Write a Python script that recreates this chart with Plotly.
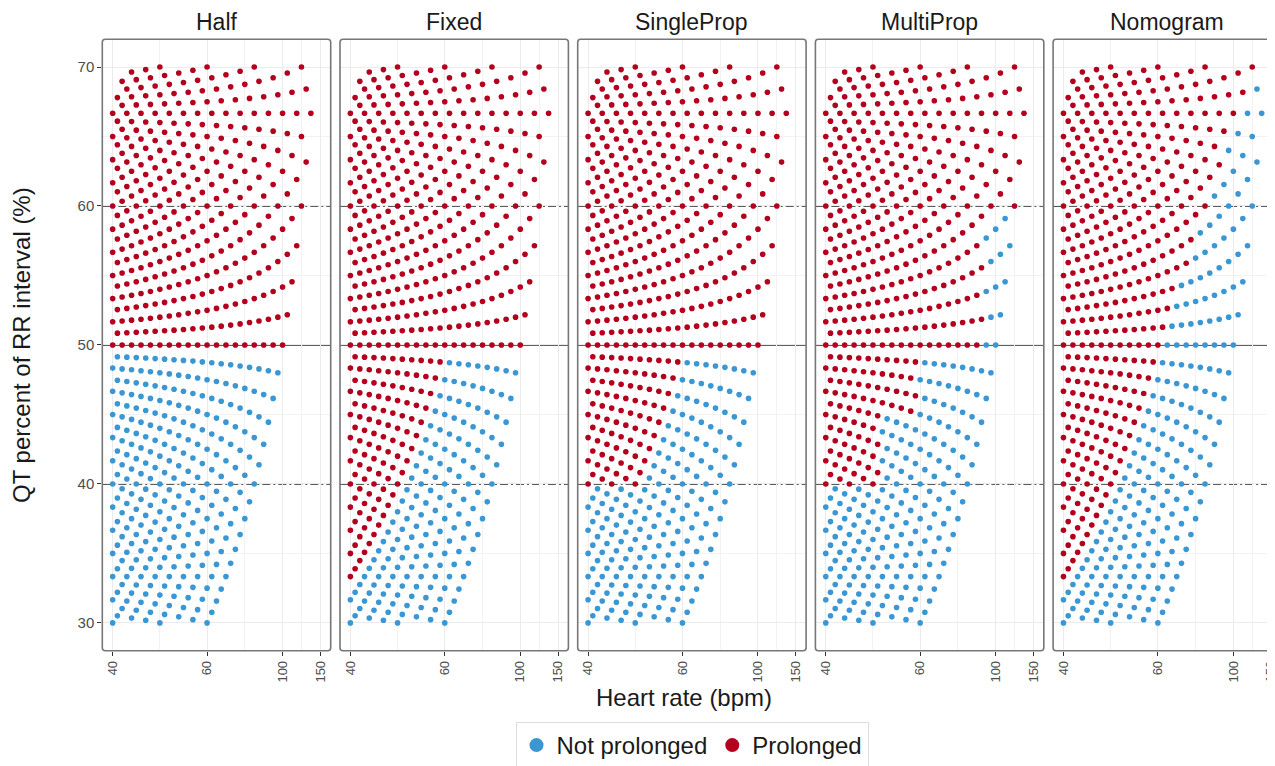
import plotly.graph_objects as go

# ---------------- data ----------------
PANELS = ["Half", "Fixed", "SingleProp", "MultiProp", "Nomogram"]

# RR interval grid (ms) and QT grid (ms) of the simulated ECGs
RR_MS = [1500, 1475, 1450, 1425, 1400, 1375, 1350, 1325, 1300, 1275, 1250, 1225,
         1200, 1175, 1150, 1125, 1100, 1075, 1050, 1025, 1000, 975, 950, 925,
         900, 875, 850, 825, 800, 775, 750, 725, 700, 675, 650, 625, 600, 575,
         550, 525, 500, 475, 450]
QT_MS = [300, 325, 350, 375, 400, 425, 450, 475, 500, 525, 550, 575, 600, 625,
         650, 675, 700, 725, 750, 775, 800, 825, 850, 875, 900, 925, 950, 975, 1000]

# smallest QT (ms) classed as "Prolonged" at each RR (same order as RR_MS)
THR_HALF = [750, 750, 725, 725, 700, 700, 675, 675, 650, 650, 625, 625, 600, 600,
            575, 575, 550, 550, 525, 525, 500, 500, 475, 475, 450, 450, 425, 425,
            400, 400, 375, 375, 350, 350, 325, 325, 300, 300, 300, 300, 300, 300, 300]
THR_FIXED = [500, 500, 500, 500, 500, 500, 500, 500, 500, 500, 500, 500, 500, 500,
             500, 500, 500, 500, 500, 500, 500, 500, 475, 475, 450, 450, 425, 425,
             400, 400, 375, 375, 350, 350, 325, 325, 300, 300, 300, 300, 300, 300, 300]
THR_SINGLE = [600, 600, 600, 575, 575, 550, 550, 550, 525, 525, 500, 500, 500, 500,
              500, 500, 500, 500, 500, 500, 500, 500, 475, 475, 450, 450, 425, 425,
              400, 400, 375, 375, 350, 350, 325, 325, 300, 300, 300, 300, 300, 300, 300]
THR_MULTI = [600, 600, 600, 575, 575, 550, 550, 550, 525, 525, 500, 500, 550, 550,
             525, 525, 500, 500, 475, 475, 500, 500, 475, 475, 450, 450, 425, 425,
             400, 400, 375, 375, 350, 350, 400, 375, 375, 350, 350, 325, 300, 300, 300]
THR_NOMO = [500, 500, 500, 500, 500, 500, 500, 500, 500, 500, 500, 500, 500, 500,
            500, 500, 500, 500, 500, 500, 500, 500, 500, 500, 500, 500, 475, 475,
            475, 475, 450, 450, 450, 425, 425, 425, 400, 400, 375, 375, 350, 350, 325]
THRESHOLDS = [THR_HALF, THR_FIXED, THR_SINGLE, THR_MULTI, THR_NOMO]

HR_TICKS = [40, 60, 100, 150]          # heart-rate tick labels (bpm)
HR_MINOR = [48, 75, 120]               # minor grid positions (bpm)
Y_TICKS = [30, 40, 50, 60, 70]
Y_MINOR = [35, 45, 55, 65]
PCT_MIN, PCT_MAX = 30, 70

# ---------------- style / layout ----------------
OFF = 8                      # page body margin
W, H = 1300, 790             # canvas is larger than the window; the window shows the left/top part
FONT = "Liberation Sans, Arial, Helvetica, sans-serif"
BLUE = "#3a97d4"
RED = "#b4001d"
PANEL_LEFT = [p - OFF for p in (102.3, 340.0, 577.7, 815.4, 1053.1)]
PANEL_W = 228.4
TOP, BOT = 39.2 - OFF, 650.7 - OFF
X_LO, X_HI = 345.0, 1555.0   # RR-axis limits (ms), drawn reversed


def px(xp):
    return xp / W


def py(yp):
    return (H - yp) / H


fig = go.Figure()
layout = dict(
    width=W, height=H, margin=dict(l=0, r=0, t=0, b=0),
    paper_bgcolor="white", plot_bgcolor="white",
    font=dict(family=FONT, color="#1a1a1a"),
    showlegend=True,
)
shapes, annotations = [], []
ydom = [py(BOT), py(TOP)]

for i, (name, thr) in enumerate(zip(PANELS, THRESHOLDS)):
    n = "" if i == 0 else str(i + 1)
    bx, by, rx, ry = [], [], [], []
    for rr, t in zip(RR_MS, thr):
        for qt in QT_MS:
            pct = qt / rr * 100.0
            if pct < PCT_MIN - 1e-9 or pct > PCT_MAX + 1e-9:
                continue
            if qt >= t:
                rx.append(rr); ry.append(pct)
            else:
                bx.append(rr); by.append(pct)
    for xs, ys, col, lab in [(bx, by, BLUE, "Not prolonged"), (rx, ry, RED, "Prolonged")]:
        fig.add_trace(go.Scatter(
            x=xs, y=ys, mode="markers", name=lab,
            showlegend=False, xaxis="x" + n, yaxis="y" + n,
            marker=dict(color=col, size=5.6, line=dict(width=0)),
            hoverinfo="skip"))

    left = PANEL_LEFT[i]
    right = left + PANEL_W
    layout["xaxis" + n] = dict(
        domain=[px(left), px(right)], range=[X_HI, X_LO], anchor="y" + n,
        tickvals=[60000 / h for h in HR_TICKS], ticktext=[str(h) for h in HR_TICKS],
        tickangle=-90, ticks="outside", ticklen=4, tickwidth=1.3, tickcolor="#333333",
        tickfont=dict(size=13, color="#4d4d4d", family=FONT),
        showgrid=True, gridcolor="#ebebeb", gridwidth=1,
        minor=dict(tickvals=[60000 / h for h in HR_MINOR], showgrid=True,
                   gridcolor="#f2f2f2", gridwidth=0.8),
        zeroline=False, showline=False, automargin=False, fixedrange=True)
    layout["yaxis" + n] = dict(
        domain=ydom, range=[28, 72], anchor="x" + n,
        tickvals=Y_TICKS, showticklabels=(i == 0),
        ticks="outside" if i == 0 else "", ticklen=4, tickwidth=1.3, tickcolor="#333333",
        tickfont=dict(size=15, color="#4d4d4d", family=FONT),
        showgrid=True, gridcolor="#ebebeb", gridwidth=1,
        minor=dict(tickvals=Y_MINOR, showgrid=True, gridcolor="#f2f2f2", gridwidth=0.8),
        zeroline=False, showline=False, automargin=False, fixedrange=True)

    xd = "x" + n + " domain"
    # reference lines
    shapes.append(dict(type="line", xref=xd, yref="y" + n, x0=0, x1=1, y0=50, y1=50,
                       line=dict(color="#2b2b2b", width=1.8), layer="below"))
    for yv in (40, 60):
        shapes.append(dict(type="line", xref=xd, yref="y" + n, x0=0, x1=1, y0=yv, y1=yv,
                           line=dict(color="#262626", width=1.7, dash="8px,3px,2px,3px"),
                           layer="below"))
    # panel border with slightly rounded corners
    r = 3.0
    x0, x1 = px(left), px(right)
    y0, y1 = py(BOT), py(TOP)
    rx_, ry_ = r / W, r / H
    path = (f"M {x0+rx_},{y1} L {x1-rx_},{y1} Q {x1},{y1} {x1},{y1-ry_} "
            f"L {x1},{y0+ry_} Q {x1},{y0} {x1-rx_},{y0} L {x0+rx_},{y0} "
            f"Q {x0},{y0} {x0},{y0+ry_} L {x0},{y1-ry_} Q {x0},{y1} {x0+rx_},{y1} Z")
    shapes.append(dict(type="path", xref="paper", yref="paper", path=path,
                       line=dict(color="#777777", width=1.6), fillcolor="rgba(0,0,0,0)",
                       layer="above"))
    # strip title
    annotations.append(dict(text=name, xref="paper", yref="paper",
                            x=px(left + PANEL_W / 2), y=py(22 - OFF),
                            xanchor="center", yanchor="middle", showarrow=False,
                            font=dict(size=23, color="#1a1a1a", family=FONT)))

annotations.append(dict(text="QT percent of RR interval (%)", xref="paper", yref="paper",
                        x=px(22 - OFF), y=py((TOP + BOT) / 2), textangle=-90,
                        xanchor="center", yanchor="middle", showarrow=False,
                        font=dict(size=24, color="#1a1a1a", family=FONT)))
annotations.append(dict(text="Heart rate (bpm)", xref="paper", yref="paper",
                        x=px(684 - OFF), y=py(697 - OFF),
                        xanchor="center", yanchor="middle", showarrow=False,
                        font=dict(size=24, color="#1a1a1a", family=FONT)))

# legend entries (symbols only, no data)
for col, lab in [(BLUE, "Not prolonged"), (RED, "Prolonged")]:
    fig.add_trace(go.Scatter(x=[None], y=[None], mode="markers", name=lab,
                             marker=dict(color=col, size=14, line=dict(width=0)),
                             showlegend=True, hoverinfo="skip"))

layout["shapes"] = shapes
layout["annotations"] = annotations
layout["legend"] = dict(orientation="h", x=px(692 - OFF), xanchor="center",
                        y=py(722 - OFF), yanchor="top", bordercolor="#dddddd",
                        borderwidth=1, bgcolor="white", itemsizing="trace",
                        traceorder="normal",
                        font=dict(size=24, color="#1a1a1a", family=FONT),
                        itemwidth=30, tracegroupgap=0)
fig.update_layout(**layout)
fig.write_html("out.html")
